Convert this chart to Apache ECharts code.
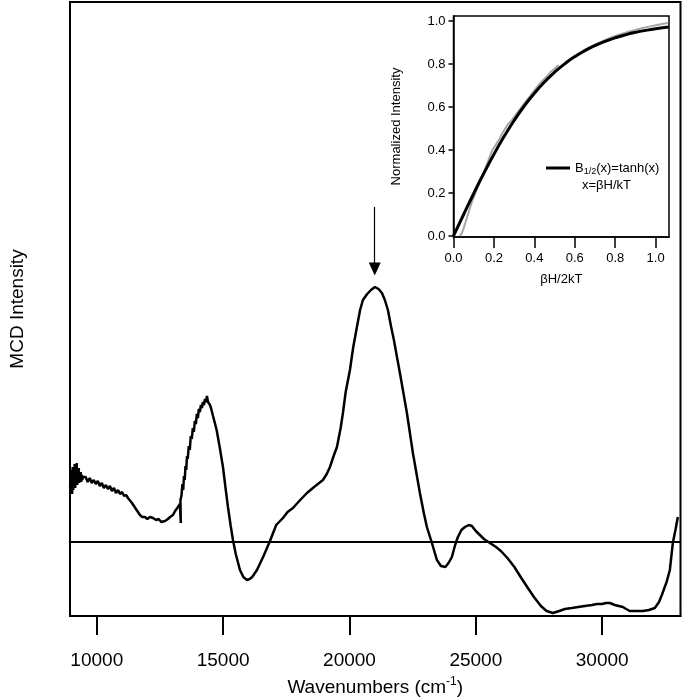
<!DOCTYPE html>
<html>
<head>
<meta charset="utf-8">
<script src="https://cdn.jsdelivr.net/npm/echarts@6/dist/echarts.min.js"></script>
<style>html,body{margin:0;padding:0;background:#fff}#c{width:686px;height:698px}</style>
</head>
<body>
<div id="c"></div>
<script>
// ---- Main MCD spectrum: [wavenumber (cm-1), intensity (arb.)]
const mcdSpectrum = [
[8945,55],[8965,72],[8985,50],[9005,70],[9025,48],[9045,75],[9065,52],[9085,68],[9105,56],[9125,78],
[9145,54],[9165,72],[9185,58],[9205,79],[9225,57],[9245,70],[9265,60],[9285,74],[9305,59],[9325,68],
[9345,61],[9365,70],[9385,60],[9405,67],[9425,62],[9450,65],[9480,63],
[9560,65],[9640,60],[9720,64],[9800,59],[9880,62],[9960,58],[10040,61],[10120,56],[10200,59],
[10280,54],[10360,57],[10440,53],[10520,56],[10600,51],[10680,54],[10760,49],[10840,52],[10920,48],
[11000,50],[11080,46],[11160,47],[11234,44],[11393,39],[11550,33],[11709,27],[11800,25],[11907,25],
[12000,23],[12100,25],[12224,24],[12350,22],[12450,23],[12550,20],[12619,20],[12700,21],[12817,23],
[12900,25],[13015,27],[13100,31],[13213,35],[13290,38],[13325,19],[13310,42],[13350,46],
[13390,58],[13420,52],[13450,66],[13480,62],[13510,76],[13540,72],[13570,86],[13600,83],[13640,96],
[13680,92],[13720,106],[13760,103],[13800,114],[13840,110],[13880,121],[13920,118],[13960,128],
[14000,124],[14040,133],[14080,130],[14120,137],[14160,134],[14200,140],[14240,137],[14280,143],
[14320,140],[14360,146],[14400,140],[14440,141],[14480,137],[14520,134],[14600,126],[14744,112],
[14870,94],[14993,75],[15100,53],[15191,35],[15300,16],[15389,2],[15500,-12],[15666,-28],[15800,-35],
[15943,-38],[16050,-37],[16150,-35],[16339,-28],[16600,-14],[16853,1],[17100,17],[17368,24],
[17550,30],[17763,34],[18050,42],[18317,49],[18600,55],[18950,62],[19100,68],[19227,75],[19400,88],
[19504,95],[19650,114],[19741,129],[19850,150],[20018,172],[20150,195],[20295,215],[20420,232],
[20532,242],[20700,248],[20850,252],[21007,255],[21150,253],[21284,249],[21400,242],[21521,232],
[21650,215],[21758,202],[21880,185],[21996,169],[22273,129],[22510,89],[22787,49],[22950,28],
[23064,15],[23262,-1],[23460,-18],[23620,-24],[23796,-25],[23920,-21],[24053,-15],[24180,-3],
[24291,5],[24430,12],[24568,15],[24726,17],[24845,16],[25000,11],[25161,7],[25320,3],[25557,-1],
[25800,-5],[25993,-9],[26250,-16],[26526,-25],[26800,-36],[27060,-46],[27300,-55],[27575,-64],
[27800,-69],[28049,-71],[28300,-69],[28524,-67],[28800,-66],[29050,-65],[29315,-64],[29600,-63],
[29800,-62],[29988,-62],[30150,-61],[30304,-61],[30500,-63],[30660,-64],[30818,-65],[30950,-67],
[31095,-69],[31350,-69],[31610,-69],[31850,-68],[32084,-66],[32250,-60],[32361,-53],[32550,-40],
[32678,-28],[32796,-1],[32900,12],[32994,25]
];
const mainXTicks = [10000, 15000, 20000, 25000, 30000];
const arrowMark = { x: 21000, from: 335, to: 273 };

// ---- Inset: [βH/2kT, normalized intensity]
const insetDataSeg1 = [
[0.03,0.0],[0.04,0.01],[0.05,0.035],[0.06,0.065],[0.07,0.095],[0.08,0.125],[0.09,0.155],[0.10,0.18],
[0.11,0.205],[0.12,0.23],[0.13,0.255],[0.14,0.275],[0.15,0.297],[0.16,0.32],[0.17,0.345],[0.18,0.37],
[0.19,0.395],[0.20,0.41],[0.21,0.425],[0.22,0.44],[0.23,0.455],[0.24,0.475],[0.25,0.49],[0.26,0.505],
[0.27,0.52],[0.28,0.53],[0.29,0.54],[0.30,0.553],[0.32,0.578],[0.34,0.604],[0.36,0.628],[0.38,0.652],
[0.40,0.677],[0.42,0.70],[0.44,0.722],[0.46,0.74],[0.48,0.762],[0.50,0.778],[0.52,0.795]
];
const insetDataSeg2 = [
[0.55,0.805],[0.58,0.825],[0.60,0.838],[0.63,0.855],[0.65,0.866],[0.68,0.88],[0.70,0.89],[0.73,0.903],
[0.75,0.912],[0.78,0.923],[0.80,0.93],[0.83,0.94],[0.85,0.945],[0.88,0.953],[0.90,0.958],[0.93,0.966],
[0.95,0.97],[0.98,0.976],[1.00,0.98],[1.03,0.986],[1.06,0.99]
];
const insetFit = [
[0,0],[0.05,0.0997],[0.1,0.1974],[0.15,0.2913],[0.2,0.3799],[0.25,0.4621],[0.3,0.5370],[0.35,0.6044],
[0.4,0.6640],[0.45,0.7163],[0.5,0.7616],[0.55,0.8005],[0.6,0.8337],[0.65,0.8617],[0.7,0.8854],
[0.75,0.9051],[0.8,0.9217],[0.85,0.9354],[0.9,0.9468],[0.95,0.9562],[1.0,0.9640],[1.066,0.9720]
];
const insetXTicks = [0, 0.2, 0.4, 0.6, 0.8, 1.0];
const insetYTicks = [0, 0.2, 0.4, 0.6, 0.8, 1.0];

const FONT = 'Liberation Sans, Arial, Helvetica, sans-serif';
const chart = echarts.init(document.getElementById('c'));
chart.setOption({
  animation: false,
  backgroundColor: '#fff',
  textStyle: { fontFamily: FONT, color: '#000' },
  grid: [
    { left: 70, right: 5.5, top: 2, bottom: 82, show: true, borderColor: '#000', borderWidth: 2, backgroundColor: 'transparent', containLabel: false, outerBoundsMode: 'none' },
    { left: 453.5, right: 17, top: 16, bottom: 461, show: true, borderColor: '#000', borderWidth: 1.5, backgroundColor: 'transparent', containLabel: false, outerBoundsMode: 'none' }
  ],
  legend: {
    data: ['fit'], left: 541, top: 156, selectedMode: false,
    icon: 'rect', itemWidth: 24, itemHeight: 3, itemGap: 6,
    formatter: () => '{a|B}{s|1/2}{a|(x)=tanh(x)}',
    textStyle: { color: '#000', fontFamily: FONT, fontSize: 13,
      rich: { a: { fontSize: 13, fontFamily: FONT, color: '#000', lineHeight: 16 },
              s: { fontSize: 9, fontFamily: FONT, color: '#000', lineHeight: 16, verticalAlign: 'bottom', padding: [6, 0, 0, 0] } } }
  },
  graphic: [
    { type: 'text', left: 582, top: 179, style: { text: 'x=βH/kT', font: '13px ' + FONT, fill: '#000' } }
  ],
  xAxis: [
    { type: 'value', gridIndex: 0, min: 8940, max: 33100,
      axisLine: { show: true, onZero: false, lineStyle: { color: '#000', width: 2 } },
      axisTick: { show: true, inside: false, length: 19, lineStyle: { color: '#000', width: 2 }, customValues: mainXTicks },
      axisLabel: { show: true, margin: 35, fontSize: 19, color: '#000', fontFamily: FONT, customValues: mainXTicks, formatter: v => String(v) },
      splitLine: { show: false },
      name: '{a|Wavenumbers (cm}{sup|-1}{a|)}', nameLocation: 'middle', nameGap: 60,
      nameTextStyle: { rich: { a: { fontSize: 19, fontFamily: FONT, color: '#000', lineHeight: 24 },
                               sup: { fontSize: 12, fontFamily: FONT, color: '#000', lineHeight: 24, verticalAlign: 'top', padding: [0, 0, 8, 0] } } }
    },
    { type: 'value', gridIndex: 1, min: 0, max: 1.066,
      axisLine: { show: true, onZero: false, lineStyle: { color: '#000', width: 1.5 } },
      axisTick: { show: true, length: 11, lineStyle: { color: '#000', width: 1.5 }, customValues: insetXTicks },
      axisLabel: { show: true, margin: 15, fontSize: 13, color: '#000', fontFamily: FONT, customValues: insetXTicks, formatter: v => v.toFixed(1) },
      splitLine: { show: false },
      name: 'βH/2kT', nameLocation: 'middle', nameGap: 36,
      nameTextStyle: { fontSize: 13, fontFamily: FONT, color: '#000' }
    }
  ],
  yAxis: [
    { type: 'value', gridIndex: 0, min: -74, max: 540,
      axisLine: { show: true, onZero: false, lineStyle: { color: '#000', width: 2 } },
      axisTick: { show: false }, axisLabel: { show: false }, splitLine: { show: false },
      name: 'MCD Intensity', nameLocation: 'middle', nameGap: 43,
      nameTextStyle: { fontSize: 19, fontFamily: FONT, color: '#000' }
    },
    { type: 'value', gridIndex: 1, min: -0.005, max: 1.023,
      axisLine: { show: true, onZero: false, lineStyle: { color: '#000', width: 1.5 } },
      axisTick: { show: true, length: 5, lineStyle: { color: '#000', width: 1.5 }, customValues: insetYTicks },
      axisLabel: { show: true, margin: 8, fontSize: 13, color: '#000', fontFamily: FONT, customValues: insetYTicks, formatter: v => v.toFixed(1) },
      splitLine: { show: false },
      name: 'Normalized Intensity', nameLocation: 'middle', nameGap: 51,
      nameTextStyle: { fontSize: 13, fontFamily: FONT, color: '#000' }
    }
  ],
  series: [
    { type: 'line', name: 'spectrum', xAxisIndex: 0, yAxisIndex: 0, data: mcdSpectrum,
      showSymbol: false, symbol: 'none', lineStyle: { color: '#000', width: 2.5 }, itemStyle: { color: '#000' },
      markLine: {
        silent: true, animation: false,
        label: { show: false },
        data: [
          [ { coord: [8940, 0], symbol: 'none', lineStyle: { color: '#000', width: 1.8, type: 'solid' } },
            { coord: [33100, 0], symbol: 'none' } ],
          [ { coord: [arrowMark.x, arrowMark.from], symbol: 'none', lineStyle: { color: '#000', width: 1.2, type: 'solid' } },
            { coord: [arrowMark.x, arrowMark.to], symbol: 'triangle', symbolSize: [12, 13] } ]
        ]
      }
    },
    { type: 'line', name: 'data1', xAxisIndex: 1, yAxisIndex: 1, data: insetDataSeg1,
      showSymbol: false, symbol: 'none', lineStyle: { color: '#a6a6a6', width: 2 } },
    { type: 'line', name: 'data2', xAxisIndex: 1, yAxisIndex: 1, data: insetDataSeg2,
      showSymbol: false, symbol: 'none', lineStyle: { color: '#a6a6a6', width: 2 } },
    { type: 'line', name: 'fit', xAxisIndex: 1, yAxisIndex: 1, data: insetFit, smooth: true,
      showSymbol: false, symbol: 'none', lineStyle: { color: '#000', width: 3 }, itemStyle: { color: '#000' } }
  ]
});
</script>
</body>
</html>
